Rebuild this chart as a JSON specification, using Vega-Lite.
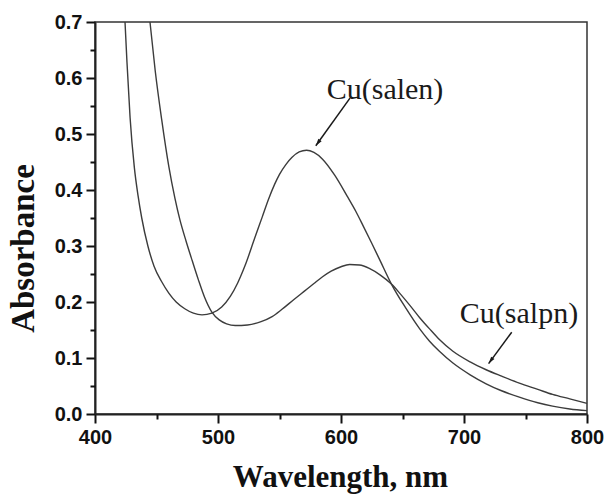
{
  "$schema": "https://vega.github.io/schema/vega-lite/v6.json",
  "width": 492,
  "height": 392,
  "autosize": {"type": "none"},
  "padding": {"left": 95, "top": 22, "right": 17, "bottom": 80},
  "background": "white",
  "config": {
    "view": {"stroke": "#333333", "strokeWidth": 1.5},
    "axis": {"grid": false}
  },
  "datasets": {
    "spectra": [
      {"compound": "Cu(salen)", "wavelength": 424.4, "absorbance": 0.70},
      {"compound": "Cu(salen)", "wavelength": 426, "absorbance": 0.628},
      {"compound": "Cu(salen)", "wavelength": 428.5, "absorbance": 0.53},
      {"compound": "Cu(salen)", "wavelength": 432, "absorbance": 0.44},
      {"compound": "Cu(salen)", "wavelength": 435, "absorbance": 0.39},
      {"compound": "Cu(salen)", "wavelength": 438, "absorbance": 0.35},
      {"compound": "Cu(salen)", "wavelength": 443, "absorbance": 0.30},
      {"compound": "Cu(salen)", "wavelength": 448, "absorbance": 0.264},
      {"compound": "Cu(salen)", "wavelength": 454, "absorbance": 0.237},
      {"compound": "Cu(salen)", "wavelength": 460, "absorbance": 0.216},
      {"compound": "Cu(salen)", "wavelength": 466, "absorbance": 0.2},
      {"compound": "Cu(salen)", "wavelength": 473, "absorbance": 0.188},
      {"compound": "Cu(salen)", "wavelength": 480, "absorbance": 0.18},
      {"compound": "Cu(salen)", "wavelength": 487, "absorbance": 0.177},
      {"compound": "Cu(salen)", "wavelength": 495, "absorbance": 0.18},
      {"compound": "Cu(salen)", "wavelength": 503, "absorbance": 0.191},
      {"compound": "Cu(salen)", "wavelength": 510, "absorbance": 0.21},
      {"compound": "Cu(salen)", "wavelength": 516, "absorbance": 0.234},
      {"compound": "Cu(salen)", "wavelength": 522, "absorbance": 0.265},
      {"compound": "Cu(salen)", "wavelength": 530, "absorbance": 0.315},
      {"compound": "Cu(salen)", "wavelength": 536, "absorbance": 0.352},
      {"compound": "Cu(salen)", "wavelength": 541, "absorbance": 0.383},
      {"compound": "Cu(salen)", "wavelength": 546, "absorbance": 0.41},
      {"compound": "Cu(salen)", "wavelength": 550, "absorbance": 0.428},
      {"compound": "Cu(salen)", "wavelength": 555, "absorbance": 0.445},
      {"compound": "Cu(salen)", "wavelength": 560, "absorbance": 0.458},
      {"compound": "Cu(salen)", "wavelength": 566, "absorbance": 0.468},
      {"compound": "Cu(salen)", "wavelength": 572, "absorbance": 0.471},
      {"compound": "Cu(salen)", "wavelength": 578, "absorbance": 0.467},
      {"compound": "Cu(salen)", "wavelength": 585, "absorbance": 0.455},
      {"compound": "Cu(salen)", "wavelength": 595, "absorbance": 0.426},
      {"compound": "Cu(salen)", "wavelength": 605, "absorbance": 0.389},
      {"compound": "Cu(salen)", "wavelength": 612, "absorbance": 0.362},
      {"compound": "Cu(salen)", "wavelength": 618, "absorbance": 0.336},
      {"compound": "Cu(salen)", "wavelength": 625, "absorbance": 0.305},
      {"compound": "Cu(salen)", "wavelength": 632, "absorbance": 0.273},
      {"compound": "Cu(salen)", "wavelength": 641, "absorbance": 0.232},
      {"compound": "Cu(salen)", "wavelength": 653, "absorbance": 0.188},
      {"compound": "Cu(salen)", "wavelength": 664, "absorbance": 0.152},
      {"compound": "Cu(salen)", "wavelength": 672, "absorbance": 0.13},
      {"compound": "Cu(salen)", "wavelength": 680, "absorbance": 0.112},
      {"compound": "Cu(salen)", "wavelength": 691, "absorbance": 0.091},
      {"compound": "Cu(salen)", "wavelength": 705, "absorbance": 0.07},
      {"compound": "Cu(salen)", "wavelength": 718, "absorbance": 0.054},
      {"compound": "Cu(salen)", "wavelength": 730, "absorbance": 0.042},
      {"compound": "Cu(salen)", "wavelength": 745, "absorbance": 0.03},
      {"compound": "Cu(salen)", "wavelength": 760, "absorbance": 0.02},
      {"compound": "Cu(salen)", "wavelength": 772, "absorbance": 0.014},
      {"compound": "Cu(salen)", "wavelength": 786, "absorbance": 0.009},
      {"compound": "Cu(salen)", "wavelength": 800, "absorbance": 0.006},
      {"compound": "Cu(salpn)", "wavelength": 444.7, "absorbance": 0.70},
      {"compound": "Cu(salpn)", "wavelength": 449, "absorbance": 0.612},
      {"compound": "Cu(salpn)", "wavelength": 454.2, "absorbance": 0.526},
      {"compound": "Cu(salpn)", "wavelength": 460, "absorbance": 0.442},
      {"compound": "Cu(salpn)", "wavelength": 465, "absorbance": 0.385},
      {"compound": "Cu(salpn)", "wavelength": 469, "absorbance": 0.347},
      {"compound": "Cu(salpn)", "wavelength": 474, "absorbance": 0.309},
      {"compound": "Cu(salpn)", "wavelength": 479, "absorbance": 0.274},
      {"compound": "Cu(salpn)", "wavelength": 484, "absorbance": 0.24},
      {"compound": "Cu(salpn)", "wavelength": 489, "absorbance": 0.209},
      {"compound": "Cu(salpn)", "wavelength": 495, "absorbance": 0.182},
      {"compound": "Cu(salpn)", "wavelength": 501, "absorbance": 0.168},
      {"compound": "Cu(salpn)", "wavelength": 507, "absorbance": 0.161},
      {"compound": "Cu(salpn)", "wavelength": 514, "absorbance": 0.158},
      {"compound": "Cu(salpn)", "wavelength": 524, "absorbance": 0.159},
      {"compound": "Cu(salpn)", "wavelength": 535, "absorbance": 0.165},
      {"compound": "Cu(salpn)", "wavelength": 544, "absorbance": 0.174},
      {"compound": "Cu(salpn)", "wavelength": 552, "absorbance": 0.187},
      {"compound": "Cu(salpn)", "wavelength": 562, "absorbance": 0.205},
      {"compound": "Cu(salpn)", "wavelength": 570, "absorbance": 0.219},
      {"compound": "Cu(salpn)", "wavelength": 578, "absorbance": 0.233},
      {"compound": "Cu(salpn)", "wavelength": 585, "absorbance": 0.245},
      {"compound": "Cu(salpn)", "wavelength": 592, "absorbance": 0.255},
      {"compound": "Cu(salpn)", "wavelength": 600, "absorbance": 0.263},
      {"compound": "Cu(salpn)", "wavelength": 607, "absorbance": 0.267},
      {"compound": "Cu(salpn)", "wavelength": 615, "absorbance": 0.266},
      {"compound": "Cu(salpn)", "wavelength": 623, "absorbance": 0.26},
      {"compound": "Cu(salpn)", "wavelength": 632, "absorbance": 0.248},
      {"compound": "Cu(salpn)", "wavelength": 641, "absorbance": 0.232},
      {"compound": "Cu(salpn)", "wavelength": 648, "absorbance": 0.215},
      {"compound": "Cu(salpn)", "wavelength": 656, "absorbance": 0.194},
      {"compound": "Cu(salpn)", "wavelength": 664, "absorbance": 0.172},
      {"compound": "Cu(salpn)", "wavelength": 672, "absorbance": 0.152},
      {"compound": "Cu(salpn)", "wavelength": 680, "absorbance": 0.133},
      {"compound": "Cu(salpn)", "wavelength": 691, "absorbance": 0.112},
      {"compound": "Cu(salpn)", "wavelength": 705, "absorbance": 0.093},
      {"compound": "Cu(salpn)", "wavelength": 718, "absorbance": 0.079},
      {"compound": "Cu(salpn)", "wavelength": 730, "absorbance": 0.068},
      {"compound": "Cu(salpn)", "wavelength": 745, "absorbance": 0.055},
      {"compound": "Cu(salpn)", "wavelength": 760, "absorbance": 0.044},
      {"compound": "Cu(salpn)", "wavelength": 772, "absorbance": 0.035},
      {"compound": "Cu(salpn)", "wavelength": 786, "absorbance": 0.027},
      {"compound": "Cu(salpn)", "wavelength": 800, "absorbance": 0.019}
    ],
    "labels": [
      {"label": "Cu(salen)", "x": 635.8, "y": 0.562},
      {"label": "Cu(salpn)", "x": 744.7, "y": 0.163}
    ],
    "arrows": [
      {"x": 607.3, "y": 0.564, "x2": 579.5, "y2": 0.479},
      {"x": 738.8, "y": 0.146, "x2": 720.0, "y2": 0.09}
    ]
  },
  "resolve": {"axis": {"x": "independent", "y": "independent"}},
  "layer": [
    {
      "data": {"name": "spectra"},
      "mark": {"type": "line", "strokeWidth": 1.4, "color": "#3c3c3c", "interpolate": "monotone"},
      "encoding": {
        "x": {
          "field": "wavelength",
          "type": "quantitative",
          "scale": {"domain": [400, 800], "nice": false, "zero": false},
          "axis": {
            "orient": "bottom",
            "values": [400, 500, 600, 700, 800],
            "ticks": true,
            "tickSize": 9,
            "tickColor": "#111111",
            "tickWidth": 2,
            "tickOpacity": 1,
            "domainColor": "#222222",
            "domainWidth": 2,
            "labelFont": "Liberation Sans",
            "labelFontWeight": "bold",
            "labelFontSize": 20,
            "labelColor": "#111111",
            "labelPadding": 4,
            "labelFlush": false,
            "labelOverlap": false,
            "title": "Wavelength, nm",
            "titleFont": "Liberation Serif",
            "titleFontWeight": "bold",
            "titleFontSize": 31,
            "titleColor": "#111111",
            "titleX": 245,
            "titleY": 72,
            "titleBaseline": "alphabetic",
            "titleAlign": "center"
          }
        },
        "y": {
          "field": "absorbance",
          "type": "quantitative",
          "scale": {"domain": [0, 0.7], "nice": false},
          "axis": {
            "orient": "left",
            "values": [0, 0.1, 0.2, 0.3, 0.4, 0.5, 0.6, 0.7],
            "format": ".1f",
            "ticks": true,
            "tickSize": 9,
            "tickColor": "#111111",
            "tickWidth": 2,
            "tickOpacity": 1,
            "domainColor": "#222222",
            "domainWidth": 2,
            "labelFont": "Liberation Sans",
            "labelFontWeight": "bold",
            "labelFontSize": 20,
            "labelColor": "#111111",
            "labelPadding": 4,
            "labelFlush": false,
            "labelOverlap": false,
            "title": "Absorbance",
            "titleFont": "Liberation Serif",
            "titleFontWeight": "bold",
            "titleFontSize": 33,
            "titleColor": "#111111",
            "titleAngle": -90,
            "titleX": -62,
            "titleY": 226,
            "titleBaseline": "alphabetic",
            "titleAlign": "center"
          }
        },
        "detail": {"field": "compound"},
        "order": {"field": "wavelength"}
      }
    },
    {
      "data": {"name": "spectra"},
      "mark": {"type": "point", "opacity": 0},
      "encoding": {
        "x": {
          "field": "wavelength",
          "type": "quantitative",
          "axis": {
            "orient": "bottom",
            "values": [450, 550, 650, 750],
            "labels": false,
            "domain": false,
            "title": null,
            "ticks": true,
            "tickSize": 5,
            "tickColor": "#111111",
            "tickWidth": 2,
            "tickOpacity": 1
          }
        },
        "y": {
          "field": "absorbance",
          "type": "quantitative",
          "axis": {
            "orient": "left",
            "values": [0.05, 0.15, 0.25, 0.35, 0.45, 0.55, 0.65],
            "labels": false,
            "domain": false,
            "title": null,
            "ticks": true,
            "tickSize": 5,
            "tickColor": "#111111",
            "tickWidth": 2,
            "tickOpacity": 1
          }
        }
      }
    },
    {
      "data": {"name": "labels"},
      "mark": {"type": "text", "font": "Liberation Serif", "fontSize": 30, "color": "#1a1a1a", "align": "center", "baseline": "alphabetic"},
      "encoding": {
        "x": {"field": "x", "type": "quantitative", "axis": null},
        "y": {"field": "y", "type": "quantitative", "axis": null},
        "text": {"field": "label"}
      }
    },
    {
      "data": {"name": "arrows"},
      "mark": {"type": "rule", "strokeWidth": 1.5, "color": "#1a1a1a"},
      "encoding": {
        "x": {"field": "x", "type": "quantitative", "axis": null},
        "y": {"field": "y", "type": "quantitative", "axis": null},
        "x2": {"field": "x2"},
        "y2": {"field": "y2"}
      }
    },
    {
      "data": {"name": "arrows"},
      "mark": {"type": "point", "shape": "M0,0L0.45,1.6L-0.45,1.6Z", "filled": true, "size": 80, "angle": 216, "color": "#1a1a1a", "opacity": 1},
      "encoding": {
        "x": {"field": "x2", "type": "quantitative", "axis": null},
        "y": {"field": "y2", "type": "quantitative", "axis": null}
      }
    }
  ]
}
